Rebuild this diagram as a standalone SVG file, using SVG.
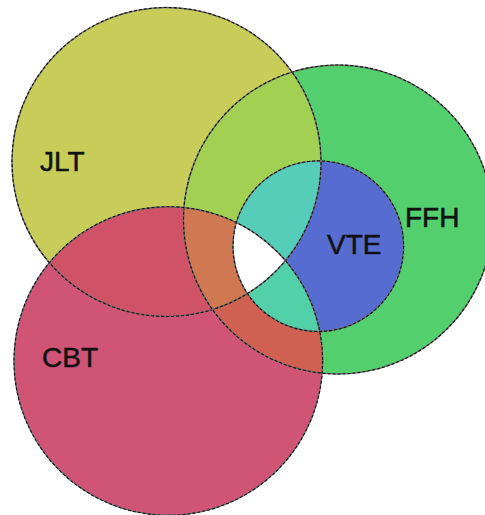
<svg xmlns="http://www.w3.org/2000/svg" width="485" height="515" viewBox="0 0 485 515">
<style>
.lbl{font-family:"Liberation Sans",Arial,sans-serif;font-size:28px;fill:#111;stroke:#111;stroke-width:0.5;}
.edge{fill:none;stroke:#6a6a6a;stroke-width:1.4;}
.dash{fill:none;stroke:#111;stroke-width:1.1;stroke-dasharray:3 2;}
</style>
<defs>
<circle id="cJ" cx="166.5" cy="162" r="154.5"/>
<circle id="cF" cx="338" cy="219.5" r="154.5"/>
<circle id="cC" cx="168.3" cy="361" r="154.3"/>
<circle id="cV" cx="318.3" cy="246.2" r="85.3"/>
<clipPath id="kJ"><use href="#cJ"/></clipPath>
<clipPath id="kF"><use href="#cF"/></clipPath>
<clipPath id="kC"><use href="#cC"/></clipPath>
</defs>
<rect width="485" height="515" fill="#ffffff"/>
<g id="regions">
<use href="#cJ" fill="#C8CD5A"/>
<use href="#cF" fill="#53CF6E"/>
<use href="#cC" fill="#CF5475"/>
<use href="#cF" fill="#A1D052" clip-path="url(#kJ)"/>
<use href="#cC" fill="#D05267" clip-path="url(#kJ)"/>
<use href="#cC" fill="#D06152" clip-path="url(#kF)"/>
<g clip-path="url(#kF)"><use href="#cC" fill="#D07852" clip-path="url(#kJ)"/></g>
<use href="#cV" fill="#576CD0"/>
<use href="#cV" fill="#55CDB8" clip-path="url(#kJ)"/>
<use href="#cV" fill="#52D1A8" clip-path="url(#kC)"/>
<g clip-path="url(#kC)"><use href="#cV" fill="#ffffff" clip-path="url(#kJ)"/></g>
</g>
<g id="JLT">
<use href="#cJ" class="edge"/><use href="#cJ" class="dash"/>
<text class="lbl" x="40" y="171">JLT</text>
</g>
<g id="FFH">
<use href="#cF" class="edge"/><use href="#cF" class="dash"/>
<text class="lbl" x="405" y="227">FFH</text>
</g>
<g id="CBT">
<use href="#cC" class="edge"/><use href="#cC" class="dash"/>
<text class="lbl" x="42" y="367">CBT</text>
</g>
<g id="VTE">
<use href="#cV" class="edge"/><use href="#cV" class="dash"/>
<text class="lbl" x="327" y="254">VTE</text>
</g>
<g id="connectors"></g>
</svg>
